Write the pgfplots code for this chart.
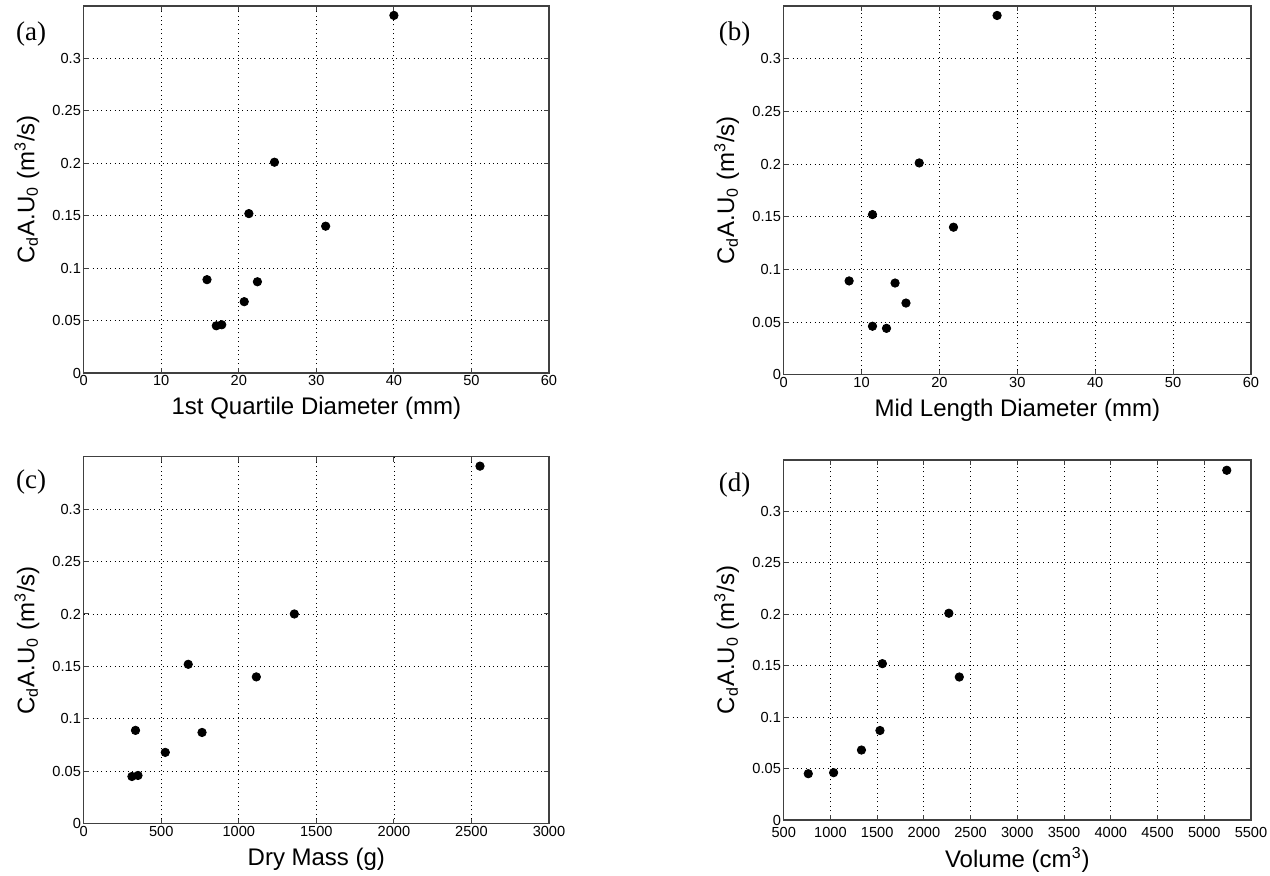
\documentclass[border=0pt]{standalone}
\usepackage{pgfplots}
\pgfplotsset{compat=1.18}
\usepackage{fontspec}
\setmainfont{Liberation Sans}
\newfontfamily\tnr{Liberation Serif}

\pgfplotsset{
  panel/.style={
    scale only axis,
    ymin=0, ymax=0.35,
    ytick={0,0.05,0.1,0.15,0.2,0.25,0.3},
    grid=major,
    major grid style={black, line width=0.4pt, dash pattern=on 0.5pt off 1.7pt},
    axis line style={black!75, line width=0.6pt},
    tick style={black!75, line width=0.5pt},
    major tick length=2.5pt, tick align=inside,
    xtick pos=both, ytick pos=both,
    xticklabel pos=lower, yticklabel pos=left,
    every tick label/.append style={font=\fontsize{7.3}{8}\selectfont},
    /pgf/number format/assume math mode=true,
    /pgf/number format/1000 sep={},
    scaled ticks=false,
    xticklabel style={inner sep=1pt},
    yticklabel style={inner sep=1.2pt, /pgf/number format/fixed, /pgf/number format/precision=2},
    label style={font=\fontsize{12}{14}\selectfont},
    xlabel style={at={(axis description cs:0.5,-0.097)}, anchor=center},
    ylabel style={at={(axis description cs:-0.122,0.5)}, anchor=center},
    ylabel={C\textsubscript{d}A.U\textsubscript{0} (m\textsuperscript{3}/s)},
    clip=false,
  },
  dots/.style={only marks, mark=*, mark size=2.1pt, black},
}
\tikzset{tag/.style={font=\tnr\fontsize{13.5}{15}\selectfont}}

\begin{document}
\begin{tikzpicture}
\useasboundingbox (0,0) rectangle (635pt,438pt);

% (a) first quartile diameter
\begin{axis}[panel, at={(41.85pt,251.5pt)}, anchor=south west,
  width=232.65pt, height=183.5pt,
  xmin=0, xmax=60, xtick={0,10,...,60},
  xlabel={1st Quartile Diameter (mm)}]
\addplot[dots] table {
x y
40.0 0.341
24.6 0.201
21.3 0.152
31.2 0.140
15.9 0.089
22.4 0.087
20.7 0.068
17.1 0.045
17.8 0.046
};
\node[tag] at (rel axis cs:-0.113,0.924) {(a)};
\end{axis}

% (b) mid length diameter
\begin{axis}[panel, at={(391.85pt,250.65pt)}, anchor=south west,
  width=233.65pt, height=184.35pt,
  xmin=0, xmax=60, xtick={0,10,...,60},
  xlabel={Mid Length Diameter (mm)}]
\addplot[dots] table {
x y
27.4 0.341
17.4 0.201
11.4 0.152
21.8 0.140
8.4 0.089
14.3 0.087
15.7 0.068
11.4 0.046
13.2 0.044
};
\node[tag] at (rel axis cs:-0.105,0.924) {(b)};
\end{axis}

% (c) dry mass
\begin{axis}[panel, at={(41.85pt,26.15pt)}, anchor=south west,
  width=232.65pt, height=183.5pt,
  xmin=0, xmax=3000, xtick={0,500,...,3000},
  xlabel={Dry Mass (g)}]
\addplot[dots] table {
x y
2555 0.341
1358 0.200
674 0.152
1113 0.140
334 0.089
763 0.087
526 0.068
311 0.045
350 0.046
};
\node[tag] at (rel axis cs:-0.113,0.932) {(c)};
\end{axis}

% (d) volume
\begin{axis}[panel, at={(391.85pt,28pt)}, anchor=south west,
  width=233.65pt, height=180pt,
  xmin=500, xmax=5500, xtick={500,1000,...,5500},
  xticklabel style={yshift=-2.5pt},
  xlabel style={at={(axis description cs:0.5,-0.11)}},
  xlabel={Volume (cm\textsuperscript{3})}]
\addplot[dots] table {
x y
5241 0.340
2267 0.201
1556 0.152
2379 0.139
1530 0.087
1332 0.068
1034 0.046
763 0.045
};
\node[tag] at (rel axis cs:-0.105,0.93) {(d)};
\end{axis}
\end{tikzpicture}
\end{document}
